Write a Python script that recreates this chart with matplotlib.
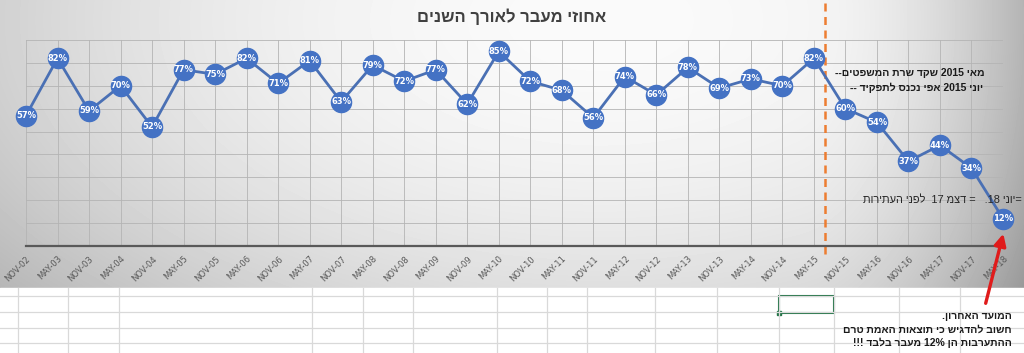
import re
import numpy as np
import matplotlib.pyplot as plt
from matplotlib.patches import Rectangle, FancyArrowPatch

# data
labels = ['NOV-02', 'MAY-03', 'NOV-03', 'MAY-04', 'NOV-04', 'MAY-05', 'NOV-05', 'MAY-06',
          'NOV-06', 'MAY-07', 'NOV-07', 'MAY-08', 'NOV-08', 'MAY-09', 'NOV-09', 'MAY-10',
          'NOV-10', 'MAY-11', 'NOV-11', 'MAY-12', 'NOV-12', 'MAY-13', 'NOV-13', 'MAY-14',
          'NOV-14', 'MAY-15', 'NOV-15', 'MAY-16', 'NOV-16', 'MAY-17', 'NOV-17', 'MAY-18']
pass_rate = [57, 82, 59, 70, 52, 77, 75, 82, 71, 81, 63, 79, 72, 77, 62, 85,
             72, 68, 56, 74, 66, 78, 69, 73, 70, 82, 60, 54, 37, 44, 34, 12]

title = 'אחוזי מעבר לאורך השנים'
note_top = ['מאי 2015 שקד שרת המשפטים--', 'יוני 2015 אפי נכנס לתפקיד --']
note_mid = '=יוני 18.   = דצמ 17  לפני העתירות'
note_bottom = ['המועד האחרון.', 'חשוב להדגיש כי תוצאות האמת טרם', 'ההתערבות הן 12% מעבר בלבד !!!']

HEB = ['Liberation Sans', 'DejaVu Sans']


def rtl(s):
    # matplotlib has no bidi: flip the text, keep numbers readable
    r = s[::-1]
    return re.sub(r'%?[0-9]+', lambda m: m.group(0)[::-1], r)


W, H = 1024, 353
fig = plt.figure(figsize=(W / 100, H / 100), dpi=100)


def fx(px):
    return px / W


def fy(py):
    return 1 - py / H


# background: chart area gradient + spreadsheet below
bg = fig.add_axes([0, 0, 1, 1])
bg.set_xlim(0, W)
bg.set_ylim(H, 0)
bg.axis('off')
X, Y = np.meshgrid(np.arange(W), np.arange(288))
d2 = ((X - 600) / 700.0) ** 2 + ((Y - 20) / 380.0) ** 2
val = 250 - 55 * d2 - 50 * np.clip((X - 800) / 224.0, 0, 1) ** 2
val = np.clip(val, 0, 255)
bg.imshow(val, cmap='gray', vmin=0, vmax=255, extent=[0, W, 288, 0], aspect='auto')
bg.add_patch(Rectangle((0, 288), W, H - 288, color='white'))
for yy in [296, 312, 328, 343]:
    bg.plot([0, W], [yy, yy], color='#d9d9d9', lw=0.9)
for xx in [18, 68, 119, 312, 363, 413, 497, 547, 587, 655, 717, 779, 834, 899, 960]:
    bg.plot([xx, xx], [288, H], color='#d9d9d9', lw=0.9)
bg.add_patch(Rectangle((779, 296), 55, 17, fill=False, ec='#217346', lw=1.5))
bg.add_patch(Rectangle((777, 311), 4, 4, color='#217346'))

# plot area
left, right, bottom_px, top_px = 26, 1003, 246, 40
ax = fig.add_axes([fx(left), fy(bottom_px), (right - left) / W, (bottom_px - top_px) / H])
ax.patch.set_alpha(0)
x = np.arange(len(labels))
ax.set_xlim(0, len(labels) - 1)
ax.set_ylim(0, 90)
ax.set_yticks(np.arange(0, 91, 10))
ax.set_xticks(x)
ax.grid(True, color='#b4b4b4', lw=0.6)
ax.tick_params(axis='y', left=False, labelleft=False)
ax.tick_params(axis='x', length=0, pad=6)
ax.set_xticklabels(labels, rotation=45, ha='right', rotation_mode='anchor',
                   fontsize=6, color='#595959')
for s in ['left', 'right', 'top']:
    ax.spines[s].set_visible(False)
ax.spines['bottom'].set_color('#595959')
ax.spines['bottom'].set_linewidth(1.6)

ax.plot(x, pass_rate, color='#4a70b4', lw=2.0, marker='o', ms=14.5,
        mfc='#4472c4', mec='#4472c4', clip_on=False, zorder=3)
for xi, v in zip(x, pass_rate):
    ax.text(xi, v, f'{v}%', color='white', fontsize=6, fontweight='bold',
            ha='center', va='center', zorder=4)

# divider May-15 / Nov-15
ax.plot([25.35, 25.35], [-3.5, 107.5], color='#ed7d31', lw=1.8,
        ls=(0, (3.2, 2.2)), clip_on=False, zorder=2)

# texts
fig.text(fx(512), fy(17), rtl(title), family=HEB, fontsize=12, fontweight='bold',
         color='#404040', ha='center', va='center')
fig.text(fx(985), fy(73), rtl(note_top[0]), family=HEB, fontsize=7.5,
         fontweight='bold', color='#1a1a1a', ha='right', va='center')
fig.text(fx(983), fy(88), rtl(note_top[1]), family=HEB, fontsize=7.5,
         fontweight='bold', color='#1a1a1a', ha='right', va='center')
fig.text(fx(1022), fy(200), rtl(note_mid), family=HEB, fontsize=7.9,
         color='#262626', ha='right', va='center')
for i, line in enumerate(note_bottom):
    fig.text(fx(1012), fy(316 + i * 13.5), rtl(line), family=HEB, fontsize=7.5,
             fontweight='bold', color='#1a1a1a', ha='right', va='center')

# red arrow to the last point
fig.patches.append(FancyArrowPatch(
    (fx(985), fy(306)), (fx(1004), fy(231)), transform=fig.transFigure,
    arrowstyle='-|>,head_length=7,head_width=3.5', color='#e01b1b', lw=2.4,
    mutation_scale=1))

fig.savefig('out.png', dpi=100)
